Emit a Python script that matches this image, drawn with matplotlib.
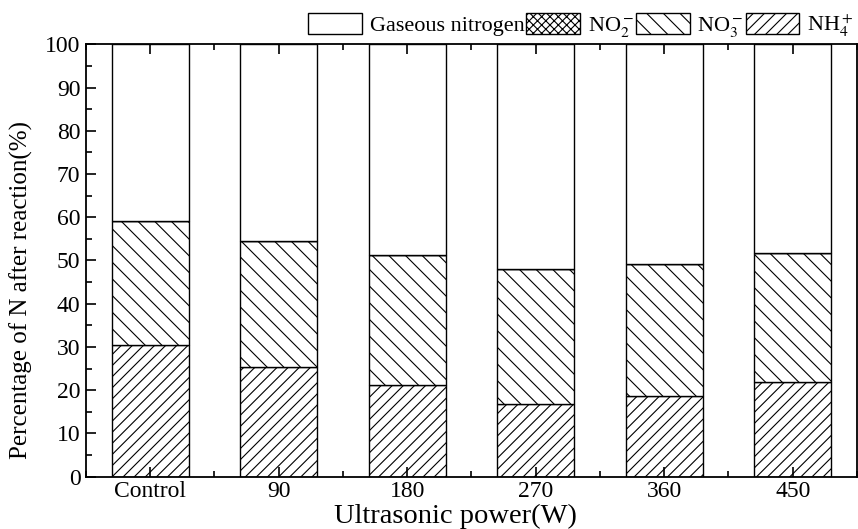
import matplotlib
matplotlib.use("Agg")
import matplotlib.pyplot as plt
from matplotlib.patches import Patch
from matplotlib.ticker import MultipleLocator
import numpy as np

categories = ["Control", "90", "180", "270", "360", "450"]
nh4 = [30.4, 25.3, 21.1, 16.7, 18.6, 21.8]
no3 = [28.8, 29.3, 30.2, 31.4, 30.7, 30.0]
no2 = [0, 0, 0, 0, 0, 0]
gaseous = [100 - a - b - c for a, b, c in zip(nh4, no3, no2)]

plt.rcParams['font.family'] = ['Liberation Serif', 'DejaVu Serif']
plt.rcParams['mathtext.fontset'] = 'stix'
plt.rcParams['hatch.linewidth'] = 0.8

fig = plt.figure(figsize=(8.58, 5.29), dpi=100)
ax = fig.add_axes([0.1002, 0.0989, 0.8986, 0.8174])

x = np.arange(len(categories))
w = 0.6
bottom = np.zeros(len(categories))
layers = [(nh4, '///'), (no3, '\\\\'), (no2, 'xxxx'), (gaseous, '')]
for vals, h in layers:
    ax.bar(x, vals, w, bottom=bottom, color='white', edgecolor='black',
           hatch=h, linewidth=1.0)
    bottom += np.array(vals)

ax.set_xlim(-0.5, 5.5)
ax.set_ylim(0, 100)
ax.set_xticks(x)
ax.set_xticklabels(categories)
ax.xaxis.set_minor_locator(MultipleLocator(0.5))
ax.yaxis.set_major_locator(MultipleLocator(10))
ax.yaxis.set_minor_locator(MultipleLocator(5))
ax.tick_params(which='both', direction='in', top=True, right=False, labelsize=17, width=1.2)
ax.tick_params(which='major', length=7)
ax.tick_params(which='minor', length=4)
ax.tick_params(axis='x', pad=3)
ax.tick_params(axis='y', pad=4)
for s in ax.spines.values():
    s.set_linewidth(1.3)

ax.set_xlabel('Ultrasonic power(W)', fontsize=20.5)
ax.set_ylabel('Percentage of N after reaction(%)', fontsize=18)
ax.xaxis.set_label_coords(0.479, -0.063)
ax.yaxis.set_label_coords(-0.069, 0.432)

handles = [Patch(facecolor='white', edgecolor='black', hatch=''),
           Patch(facecolor='white', edgecolor='black', hatch='xxxx'),
           Patch(facecolor='white', edgecolor='black', hatch='\\\\'),
           Patch(facecolor='white', edgecolor='black', hatch='///')]
labels = ['Gaseous nitrogen', r'NO$_2^-$', r'NO$_3^-$', r'NH$_4^+$']
fig.legend(handles, labels, loc='upper right', bbox_to_anchor=(1.013, 1.005), ncol=4,
           frameon=False, fontsize=16, handlelength=2.4, handleheight=1.05,
           handletextpad=0.35, columnspacing=0.1, borderpad=0.2)

fig.savefig('out.png', dpi=100)
